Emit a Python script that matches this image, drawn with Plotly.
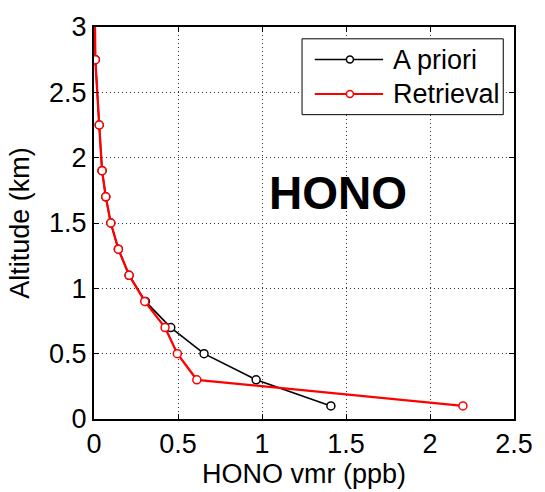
import plotly.graph_objects as go

# Data
alt_apriori = [0.1, 0.3, 0.5, 0.7, 0.9, 1.1, 1.3, 1.5, 1.7, 1.9, 2.25, 2.75, 3.25]
vmr_apriori = [1.41, 0.965, 0.655, 0.457, 0.306, 0.209, 0.145, 0.10, 0.07, 0.048, 0.031, 0.008, 0.004]
alt_retrieval = [0.1, 0.3, 0.5, 0.7, 0.9, 1.1, 1.3, 1.5, 1.7, 1.9, 2.25, 2.75, 3.25]
vmr_retrieval = [2.196, 0.612, 0.496, 0.423, 0.302, 0.209, 0.145, 0.10, 0.07, 0.048, 0.031, 0.008, 0.004]
x_ticks = [0, 0.5, 1, 1.5, 2, 2.5]
x_ticklabels = ["0", "0.5", "1", "1.5", "2", "2.5"]
y_ticks = [0, 0.5, 1, 1.5, 2, 2.5, 3]
y_ticklabels = ["0", "0.5", "1", "1.5", "2", "2.5", "3"]
series_names = ["A priori", "Retrieval"]
series_colors = ["black", "red"]

FONT = "Liberation Sans, Arial, sans-serif"
FS = 27

fig = go.Figure()
fig.add_trace(go.Scatter(
    x=vmr_apriori, y=alt_apriori, mode="lines+markers", name=series_names[0],
    line=dict(color=series_colors[0], width=1.6),
    marker=dict(symbol="circle", size=8, color="white", line=dict(color=series_colors[0], width=1.5)),
    showlegend=False,
))
fig.add_trace(go.Scatter(
    x=vmr_retrieval, y=alt_retrieval, mode="lines+markers", name=series_names[1],
    line=dict(color=series_colors[1], width=2.3),
    marker=dict(symbol="circle", size=8, color="white", line=dict(color=series_colors[1], width=1.5)),
    showlegend=False,
))

axis_common = dict(
    showline=True, linecolor="black", linewidth=2, mirror="allticks",
    ticks="inside", ticklen=5, tickwidth=1, tickcolor="black",
    showgrid=True, gridcolor="#333", griddash="1px,3px", gridwidth=1,
    zeroline=False,
    tickfont=dict(family=FONT, size=FS, color="black"),
)

fig.update_layout(
    width=545, height=492,
    margin=dict(l=94, r=21, t=22, b=72),
    paper_bgcolor="white", plot_bgcolor="white",
    font=dict(family=FONT, size=FS, color="black"),
    xaxis=dict(range=[0, 2.5], tickvals=x_ticks, ticktext=x_ticklabels,
               title=dict(text="HONO vmr (ppb)", font=dict(family=FONT, size=FS), standoff=2),
               **axis_common),
    yaxis=dict(range=[0, 3], tickvals=y_ticks, ticktext=y_ticklabels,
               title=dict(text="Altitude (km)", font=dict(family=FONT, size=FS), standoff=12),
               **axis_common),
)

# Big label
fig.add_annotation(x=1.455, y=1.73, xref="x", yref="y", text="<b>HONO</b>", showarrow=False,
                   font=dict(family=FONT, size=46, color="black"))

# Manual legend (paper coordinates)
pw, ph = 430, 398
def px(x):
    return (x - 94) / pw
def py(y):
    return (420 - y) / ph

fig.add_shape(type="rect", xref="paper", yref="paper",
              x0=px(307), x1=px(513), y0=py(111), y1=py(34),
              line=dict(color="black", width=1), fillcolor="white", layer="above")
for i, (nm, col) in enumerate(zip(series_names, series_colors)):
    yy = py(55 + 35 * i)
    fig.add_shape(type="line", xref="paper", yref="paper",
                  x0=px(320), x1=px(390), y0=yy, y1=yy,
                  line=dict(color=col, width=1.6 if i == 0 else 2), layer="above")
    fig.add_shape(type="circle", xref="paper", yref="paper",
                  xsizemode="pixel", ysizemode="pixel",
                  xanchor=px(356), yanchor=yy, x0=-3.5, x1=3.5, y0=-3.5, y1=3.5,
                  line=dict(color=col, width=1.5), fillcolor="white", layer="above")
    fig.add_annotation(xref="paper", yref="paper", x=px(398), y=yy, xanchor="left", yanchor="middle",
                       text=nm, showarrow=False, font=dict(family=FONT, size=FS, color="black"))

fig.write_html("out.html")
